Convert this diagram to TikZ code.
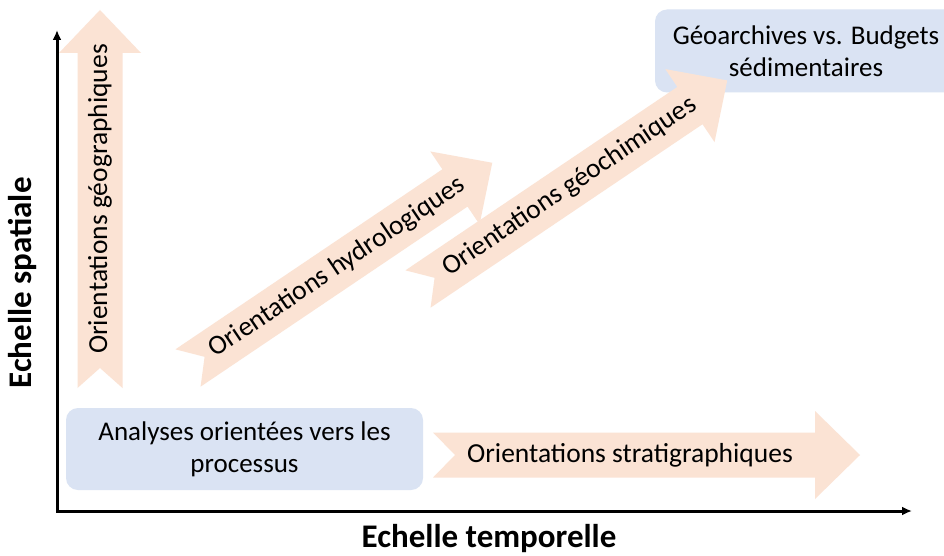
\documentclass[tikz,border=0pt]{standalone}
\usepackage{fontspec}
\setmainfont{Carlito}
\usetikzlibrary{arrows.meta}

\definecolor{peach}{HTML}{FBE3D4}
\definecolor{paleblue}{HTML}{DAE3F3}

\tikzset{
	orient/.style={fill=peach, draw=none},
	orientlabel/.style={font=\fontsize{27.5}{33}\selectfont, inner sep=0pt},
	procbox/.style={fill=paleblue, rounded corners=12pt, align=center, inner sep=0pt,
		font=\fontsize{27}{32}\selectfont},
	axislabel/.style={font=\fontsize{33}{38}\selectfont\bfseries, inner sep=0pt},
	axis/.style={line width=3pt, {Latex[length=10pt,width=9pt]}-{Latex[length=10pt,width=9pt]}}
}

\begin{document}
\begin{tikzpicture}[x=1pt, y=-1pt]
			\useasboundingbox[fill=white] (0,0) rectangle (944,556);

			% boxes
			\node[procbox, minimum width=357pt, minimum height=82pt] (proc) at (244.5,449)
				{Analyses orientées vers les\\processus};
			\node[procbox, minimum width=302pt, minimum height=83pt] (archive) at (806,51)
				{Géoarchives vs. Budgets\\sédimentaires};

			% axes
			\coordinate (origin) at (57,511);
			\coordinate (ytop) at (57,30);
			\coordinate (xend) at (912,511);
			\draw[axis] (ytop) -- (origin) -- (xend);
			\node[axislabel] (tlabel) at (489,539) {Echelle temporelle};
			\node[axislabel, rotate=90] (slabel) at (22,283) {Echelle spatiale};

			% arrows
			\begin{scope}[shift={(100,388)}, rotate=90, transform shape] % geographiques
				\fill[orient] (0,22.5) -- (335,22.5) -- (335,41) -- (378,0) -- (335,-41)
					-- (335,-22.5) -- (0,-22.5) -- (20,0) -- cycle;
				\node[orientlabel] (geo) at (189,0) {Orientations géographiques};
			\end{scope}
			\begin{scope}[shift={(188,368)}, rotate=34, transform shape] % hydrologiques
				\fill[orient] (0,22.5) -- (322,22.5) -- (322,44) -- (367,0) -- (322,-44)
					-- (322,-22.5) -- (0,-22.5) -- (20,0) -- cycle;
				\node[orientlabel] (hydro) at (180,0) {Orientations hydrologiques};
			\end{scope}
			\begin{scope}[shift={(418,289)}, rotate=34, transform shape] % geochimiques
				\fill[orient] (0,22.5) -- (328,22.5) -- (328,44) -- (373,0) -- (328,-44)
					-- (328,-22.5) -- (0,-22.5) -- (20,0) -- cycle;
				\node[orientlabel] (chem) at (183,0) {Orientations géochimiques};
			\end{scope}
			\begin{scope}[shift={(433,455)}] % stratigraphiques
				\fill[orient] (0,22.5) -- (382,22.5) -- (382,44) -- (427,0) -- (382,-44)
					-- (382,-22.5) -- (0,-22.5) -- (22,0) -- cycle;
				\node[orientlabel] (strat) at (197,0) {Orientations stratigraphiques};
			\end{scope}
		\end{tikzpicture}
\end{document}
